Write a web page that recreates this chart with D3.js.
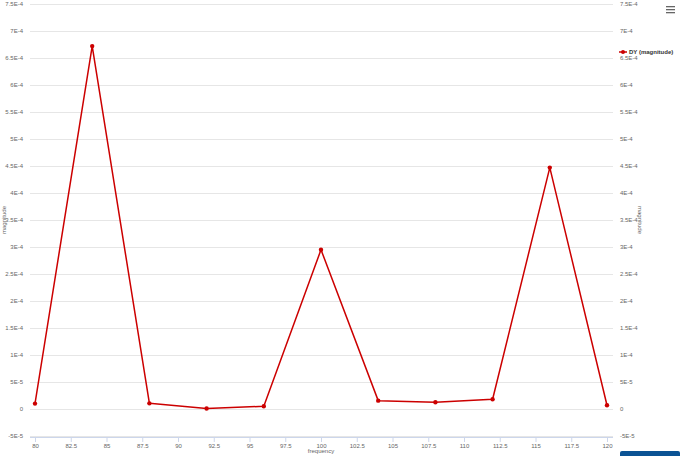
<!DOCTYPE html>
<html>
<head>
<meta charset="utf-8">
<script src="https://cdn.jsdelivr.net/npm/d3@7"></script>
<style>
  body { margin: 0; background: #fff; }
  svg { display: block; font-family: "Liberation Sans", Arial, sans-serif; }
</style>
</head>
<body>
<svg id="chart" width="690" height="456"></svg>
<script>
// data
const frequency = [80, 84, 88, 92, 96, 100, 104, 108, 112, 116, 120];
const magnitude = [1.0e-5, 6.72e-4, 1.05e-5, 0.1e-5, 0.5e-5, 2.95e-4, 1.55e-5, 1.25e-5, 1.8e-5, 4.47e-4, 0.7e-5];
const xTicks = [80, 82.5, 85, 87.5, 90, 92.5, 95, 97.5, 100, 102.5, 105, 107.5, 110, 112.5, 115, 117.5, 120];
const yTicks = d3.range(-1, 16).map(i => i * 5e-5);
const seriesName = 'DY (magnitude)';

const svg = d3.select('#chart');
const lineColor = '#cc0000';

const x = d3.scaleLinear().domain([80, 120]).range([35, 607]);
const y = d3.scaleLinear().domain([-5e-5, 7.5e-4]).range([436, 4]);

const fmtY = v => {
  if (Math.abs(v) < 1e-12) return '0';
  const e = Math.floor(Math.log10(Math.abs(v)) + 1e-9);
  let m = +(v / Math.pow(10, e)).toFixed(1);
  return m + 'E' + e;
};

// grid
svg.append('g')
  .selectAll('line')
  .data(yTicks)
  .enter()
  .append('line')
  .attr('x1', 30)
  .attr('x2', 613)
  .attr('y1', d => Math.round(y(d)) + 0.5)
  .attr('y2', d => Math.round(y(d)) + 0.5)
  .attr('stroke', '#e6e6e6')
  .attr('stroke-width', 1);

// left labels
svg.append('g')
  .selectAll('text')
  .data(yTicks)
  .enter()
  .append('text')
  .attr('x', 23)
  .attr('y', d => y(d) + 2)
  .attr('text-anchor', 'end')
  .attr('font-size', 6)
  .attr('fill', '#666')
  .text(fmtY);

// right labels
svg.append('g')
  .selectAll('text')
  .data(yTicks)
  .enter()
  .append('text')
  .attr('x', 620)
  .attr('y', d => y(d) + 2)
  .attr('text-anchor', 'start')
  .attr('font-size', 6)
  .attr('fill', '#666')
  .text(fmtY);

// x axis
const xAxis = svg.append('g')
  .attr('transform', 'translate(0,437)')
  .call(d3.axisBottom(x).tickValues(xTicks).tickSize(5).tickPadding(2).tickFormat(d => d));
xAxis.select('.domain').attr('stroke', '#ccd6eb').attr('d', 'M30,0.5H613');
xAxis.selectAll('.tick line').attr('stroke', '#ccd6eb');
xAxis.selectAll('.tick text').attr('font-size', 6).attr('fill', '#666').attr('font-family', 'Liberation Sans, Arial, sans-serif');

// axis titles
svg.append('text')
  .attr('x', 321)
  .attr('y', 453)
  .attr('text-anchor', 'middle')
  .attr('font-size', 6)
  .attr('fill', '#666')
  .text('frequency');

svg.append('text')
  .attr('transform', 'translate(6,220) rotate(-90)')
  .attr('text-anchor', 'middle')
  .attr('font-size', 6)
  .attr('fill', '#666')
  .text('magnitude');

svg.append('text')
  .attr('transform', 'translate(638,220) rotate(90)')
  .attr('text-anchor', 'middle')
  .attr('font-size', 6)
  .attr('fill', '#666')
  .text('magnitude');

// series
const pts = frequency.map((f, i) => ({ f, m: magnitude[i] }));

svg.append('path')
  .datum(pts)
  .attr('fill', 'none')
  .attr('stroke', lineColor)
  .attr('stroke-width', 1.5)
  .attr('stroke-linejoin', 'round')
  .attr('d', d3.line().x(d => x(d.f)).y(d => y(d.m)));

svg.append('g')
  .selectAll('circle')
  .data(pts)
  .enter()
  .append('circle')
  .attr('cx', d => x(d.f))
  .attr('cy', d => y(d.m))
  .attr('r', 2.2)
  .attr('fill', lineColor);

// legend
const legend = svg.append('g').attr('transform', 'translate(619,52)');
legend.append('line')
  .attr('x1', 0).attr('x2', 8).attr('y1', 0).attr('y2', 0)
  .attr('stroke', lineColor).attr('stroke-width', 1.5);
legend.append('circle').attr('cx', 4).attr('cy', 0).attr('r', 2).attr('fill', lineColor);
legend.append('text')
  .attr('x', 10).attr('y', 2)
  .attr('font-size', 6)
  .attr('font-weight', 'bold')
  .attr('fill', '#333')
  .text(seriesName);

// menu icon
const menu = svg.append('g').attr('transform', 'translate(666,6)');
[0, 3, 6].forEach(dy => {
  menu.append('rect').attr('x', 0).attr('y', dy).attr('width', 9).attr('height', 1.3).attr('fill', '#666');
});

// bottom-right button peek
svg.append('rect')
  .attr('x', 620).attr('y', 451).attr('width', 60).attr('height', 10)
  .attr('rx', 2)
  .attr('fill', '#0b5394');
</script>
</body>
</html>
